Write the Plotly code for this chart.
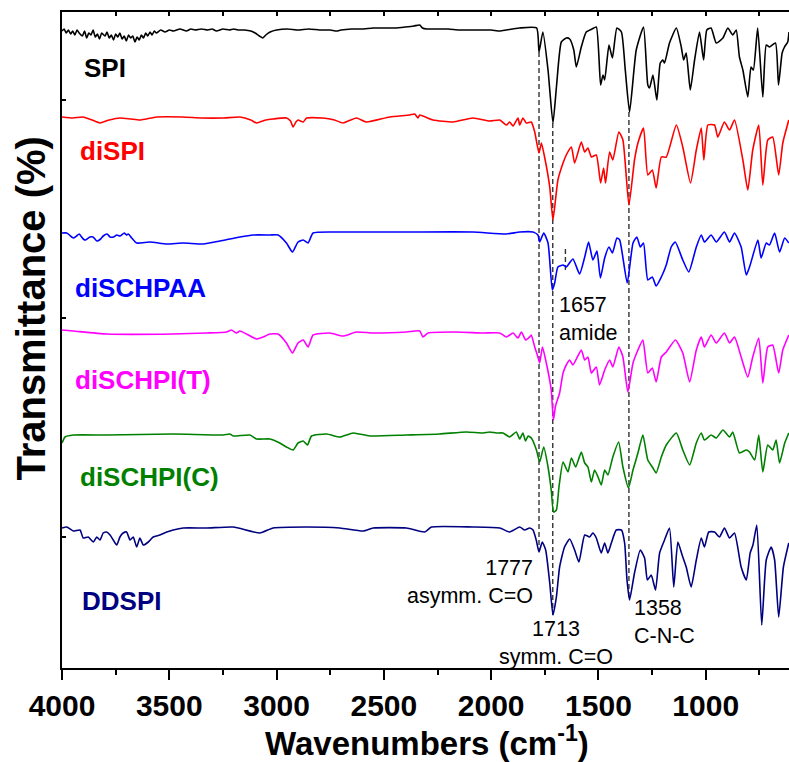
import plotly.graph_objects as go

# ---------------- data: (wavenumber cm-1, stacked transmittance a.u.) ----------------
SPI = [(4000,637),(3990,639),(3981,635),(3970,638),(3960,634),(3950,637),(3940,633),(3930,638),(3920,635),(3905,632),
       (3895,637),(3885,630),(3875,635),(3865,633),(3855,638),(3845,631),(3835,634),(3825,629),(3815,635),(3800,632),
       (3790,636),(3780,630),(3770,633),(3760,628),(3750,634),(3740,631),(3730,635),(3720,629),(3710,632),(3700,627),
       (3690,633),(3680,630),(3670,632),(3660,626),(3650,631),(3640,628),(3630,633),(3620,630),(3610,635),(3600,632),
       (3590,636),(3580,633),(3570,637),(3560,635),(3540,638),(3520,636),(3500,638),(3480,637),(3450,639),(3420,637),
       (3400,639),(3380,638),(3350,639),(3320,638),(3300,639),(3280,637),(3250,639),(3220,638),(3200,639),(3180,638),
       (3150,638),(3120,637),(3100,635),(3080,632),(3064,630),(3050,633),(3030,636),(3000,638),(2950,639),(2900,638),
       (2850,639),(2800,638),(2750,638),(2720,637),(2700,638),(2650,639),(2600,639),(2550,640),(2500,640),(2450,640),
       (2400,641),(2360,642),(2333,643),(2320,640),(2300,639),(2250,639),(2200,639),(2150,638),(2100,638),(2050,638),
       (2000,638),(1960,637),(1930,638),(1900,639),(1867,640),(1788,640),(1777,616),(1759,636),(1735,598),(1712,545),
       (1695,583),(1673,626),(1650,630),(1634,629),(1615,618),(1603,601),(1580,621),(1557,636),(1530,639),(1510,641),
       (1490,583),(1479,593),(1471,588),(1451,623),(1435,610),(1414,640),(1393,636),(1375,598),(1355,556),(1324,618),
       (1290,641),(1270,583),(1262,580),(1246,593),(1228,568),(1212,605),(1200,608),(1192,605),(1169,625),(1137,640),
       (1114,621),(1103,608),(1091,615),(1072,578),(1052,608),(1029,636),(1010,608),(995,638),(975,640),(951,625),
       (920,630),(897,640),(874,633),(858,638),(843,611),(827,598),(804,571),(789,601),(778,598),(758,640),
       (734,571),(718,623),(703,621),(675,625),(661,583),(644,615),(633,621),(618,626),(612,636)]

DISPI = [(4000,551),(3950,550),(3902,551),(3860,548),(3823,545),(3780,548),(3730,550),(3680,549),(3637,548),(3559,551),
         (3437,551),(3350,550),(3250,550),(3171,551),(3120,548),(3093,545),(3050,548),(3017,549),(2954,550),(2935,547),
         (2923,541),(2910,546),(2900,548),(2876,546),(2860,550),(2785,550),(2730,548),(2691,545),(2628,550),(2581,546),
         (2473,551),(2380,553),(2356,554),(2341,550),(2333,553),(2271,548),(2178,546),(2085,550),(2007,547),(1960,548),
         (1929,543),(1914,546),(1898,542),(1875,550),(1867,543),(1852,550),(1836,545),(1813,546),(1797,536),(1777,515),
         (1766,525),(1751,511),(1727,481),(1712,448),(1689,488),(1665,505),(1650,513),(1626,521),(1611,505),(1580,526),
         (1564,516),(1549,520),(1533,511),(1510,513),(1490,485),(1476,500),(1467,485),(1448,516),(1433,508),(1405,536),
         (1386,528),(1358,463),(1332,508),(1316,525),(1290,540),(1270,493),(1249,498),(1231,480),(1207,511),(1184,511),
         (1137,543),(1107,521),(1071,485),(1044,518),(1021,540),(1009,508),(990,543),(959,543),(944,531),(913,546),
         (889,538),(866,548),(827,508),(804,478),(781,518),(753,543),(734,483),(711,528),(688,531),(660,493),
         (641,525),(613,548)]

DISCHPAA = [(4000,435),(3978,435),(3965,433),(3955,431),(3945,430),(3932,432),(3920,434),(3901,429),(3890,428),(3870,431),
            (3855,431),(3838,427),(3820,429),(3808,432),(3790,434),(3776,431),(3760,431),(3745,433),(3730,432),(3710,435),
            (3700,433),(3691,434),(3675,430),(3652,425),(3590,426),(3512,424),(3435,425),(3342,424),(3264,427),(3171,431),
            (3109,433),(3031,433),(2993,433),(2954,425),(2926,416),(2900,426),(2876,428),(2853,425),(2830,435),(2705,436),
            (2395,436),(2085,436),(1929,434),(1867,436),(1805,436),(1782,433),(1774,426),(1755,435),(1735,425),(1715,378),
            (1704,385),(1689,401),(1665,403),(1650,401),(1619,409),(1588,394),(1564,411),(1546,426),(1526,408),(1507,417),
            (1491,390),(1471,410),(1451,421),(1435,415),(1414,430),(1401,428),(1366,385),(1339,425),(1321,431),(1305,421),
            (1290,425),(1270,388),(1249,391),(1231,382),(1207,391),(1184,403),(1161,421),(1142,426),(1107,408),(1079,396),
            (1044,421),(1021,433),(1006,426),(975,433),(951,426),(913,436),(889,426),(866,435),(835,421),(811,393),
            (793,403),(757,428),(742,410),(718,425),(703,423),(679,435),(656,416),(632,430),(613,425)]

DISCHPI_T = [(4000,338),(3947,337),(3792,334),(3482,334),(3326,335),(3233,336),(3210,338),(3187,335),(3171,337),(3140,334),
             (3093,329),(3063,331),(3031,334),(2993,334),(2954,325),(2926,315),(2900,325),(2876,328),(2853,321),(2830,333),
             (2752,335),(2690,332),(2628,336),(2550,335),(2395,336),(2333,337),(2318,331),(2294,335),(2162,336),(2038,335),
             (1960,335),(1929,331),(1898,335),(1875,330),(1859,336),(1839,328),(1821,331),(1813,333),(1797,321),(1782,311),
             (1774,305),(1761,321),(1743,305),(1720,278),(1710,248),(1700,262),(1681,275),(1665,295),(1650,303),(1634,308),
             (1619,303),(1580,318),(1564,308),(1549,311),(1533,295),(1510,301),(1495,283),(1471,298),(1448,308),(1433,301),
             (1405,321),(1386,311),(1363,276),(1339,305),(1316,318),(1293,328),(1270,295),(1249,300),(1231,286),(1207,311),
             (1184,316),(1141,328),(1107,315),(1075,286),(1044,318),(1021,331),(1006,321),(975,333),(951,325),(913,335),
             (889,325),(866,331),(835,311),(804,291),(781,311),(753,330),(734,285),(711,321),(688,323),(660,295),
             (641,318),(613,333)]

DISCHPI_C = [(4000,225),(3986,231),(3947,233),(3792,233),(3482,234),(3249,233),(3218,234),(3202,232),(3124,233),(3093,229),
             (3031,229),(2985,225),(2954,221),(2923,218),(2900,225),(2876,227),(2856,223),(2837,232),(2767,234),(2705,231),
             (2643,235),(2566,232),(2395,233),(2240,234),(2115,236),(2038,235),(2007,236),(1976,235),(1945,235),(1914,231),
             (1883,236),(1867,229),(1852,235),(1840,227),(1828,232),(1813,230),(1789,218),(1774,206),(1755,221),(1735,201),
             (1720,178),(1709,156),(1696,158),(1684,181),(1665,206),(1642,196),(1626,210),(1606,201),(1580,216),(1564,205),
             (1549,201),(1533,186),(1518,198),(1502,191),(1487,183),(1471,198),(1456,193),(1433,211),(1406,226),(1386,201),
             (1360,180),(1339,198),(1316,215),(1293,233),(1270,208),(1246,200),(1231,195),(1207,211),(1184,223),(1137,235),
             (1107,218),(1075,203),(1044,225),(1021,235),(1006,228),(975,233),(951,230),(920,238),(889,231),(874,236),
             (843,215),(811,218),(796,216),(772,208),(753,233),(734,196),(711,223),(688,218),(672,228),(656,205),
             (632,225),(613,235)]

DDSPI = [(4000,140),(3978,141),(3947,137),(3916,138),(3901,130),(3878,131),(3854,126),(3838,131),(3823,128),(3808,135),
         (3792,136),(3776,133),(3761,128),(3745,123),(3730,131),(3715,135),(3699,136),(3683,128),(3668,131),(3652,121),
         (3637,130),(3621,123),(3598,126),(3575,131),(3544,133),(3512,136),(3482,138),(3435,140),(3326,140),(3202,141),
         (3078,135),(3016,140),(2860,141),(2705,140),(2597,137),(2550,140),(2395,140),(2310,136),(2278,141),(2085,141),
         (1960,140),(1914,136),(1867,141),(1844,138),(1821,140),(1805,138),(1790,128),(1777,116),(1762,126),(1746,118),
         (1727,85),(1712,53),(1696,71),(1681,101),(1658,121),(1634,129),(1611,118),(1591,106),(1564,133),(1541,131),
         (1526,135),(1510,130),(1487,115),(1471,125),(1456,115),(1440,125),(1417,138),(1393,138),(1378,125),(1367,88),
         (1355,68),(1332,95),(1305,118),(1285,110),(1272,88),(1254,93),(1234,78),(1215,115),(1192,128),(1169,140),
         (1149,81),(1130,126),(1110,113),(1091,101),(1068,81),(1044,108),(1021,130),(1006,121),(986,136),(959,136),
         (936,131),(913,140),(889,130),(866,135),(835,101),(811,88),(793,115),(780,123),(762,143),(739,43),
         (718,108),(695,121),(679,108),(660,51),(638,101),(613,125)]

SERIES = [("SPI", SPI, "#000000"), ("diSPI", DISPI, "#ff0000"), ("diSCHPAA", DISCHPAA, "#0000ff"),
          ("diSCHPI(T)", DISCHPI_T, "#ff00ff"), ("diSCHPI(C)", DISCHPI_C, "#008000"), ("DDSPI", DDSPI, "#000080")]

# label anchor positions (wavenumber, transmittance)
LABEL_POS = [(3907, 600), (3925, 517), (3949, 380), (3949, 288), (3925, 191), (3916, 67)]

# marker bands: wavenumber, top, bottom
BANDS = [(1777, 616, 118), (1713, 545, 53), (1358, 556, 68), (1654, 419, 398)]

BAND_TEXT = [("1657<br>amide", 1692, 349, "left", "left"),
             ("1777<br>asymm. C=O", 1795, 86, "right", "right"),
             ("1713<br>symm. C=O", 1700, 25, "center", "center"),
             ("1358<br>C-N-C", 1345, 46, "left", "left")]

X_RANGE = [4000, 612]
Y_RANGE = [0, 656]
Y_TICKS = [131, 350, 568]

FONT = "Liberation Sans, Arial, sans-serif"

fig = go.Figure()

for wn, top, bot in BANDS:
    fig.add_trace(go.Scatter(x=[wn, wn], y=[top, bot], mode="lines",
                             line=dict(color="#333333", width=1.4, dash="5px,3px"),
                             hoverinfo="skip", showlegend=False))

for name, pts, col in SERIES:
    pts = sorted(pts, key=lambda p: -p[0])
    fig.add_trace(go.Scatter(x=[p[0] for p in pts], y=[p[1] for p in pts], mode="lines",
                             name=name, line=dict(color=col, width=1.6, shape="spline", smoothing=0.5),
                             showlegend=False))

# empty trace to register the top mirror axis
fig.add_trace(go.Scatter(x=[None], y=[None], xaxis="x2", showlegend=False, hoverinfo="skip"))

for (name, pts, col), (lx, ly) in zip(SERIES, LABEL_POS):
    fig.add_annotation(x=lx, y=ly, text=name, showarrow=False, xanchor="left", yanchor="middle",
                       font=dict(family=FONT, size=26, color=col, weight="bold"))

for txt, x, y, xa, al in BAND_TEXT:
    fig.add_annotation(x=x, y=y, text=txt, showarrow=False, xanchor=xa, yanchor="middle", align=al,
                       font=dict(family=FONT, size=21.5, color="#000000"))

fig.add_annotation(xref="paper", yref="paper", x=-0.043, y=0.549, text="Transmittance (%)", textangle=-90,
                   showarrow=False, xanchor="center", yanchor="middle",
                   font=dict(family=FONT, size=40, color="#000000", weight="bold"))
fig.add_annotation(xref="paper", yref="paper", x=0.502, y=-0.111, text="Wavenumbers (cm<sup>-1</sup>)",
                   showarrow=False, xanchor="center", yanchor="middle",
                   font=dict(family=FONT, size=33, color="#000000", weight="bold"))

fig.update_layout(
    width=789, height=762,
    margin=dict(l=62, r=0, t=12, b=94),
    paper_bgcolor="white", plot_bgcolor="white",
    xaxis=dict(range=X_RANGE, showgrid=False, zeroline=False, showline=True, linecolor="black", linewidth=2,
               ticks="outside", ticklen=10, tickwidth=2, tickcolor="black",
               tickmode="linear", tick0=0, dtick=500,
               minor=dict(ticks="outside", ticklen=5, tickwidth=2, tickcolor="black", dtick=250, tick0=0),
               tickfont=dict(family=FONT, size=30, color="black", weight="bold")),
    xaxis2=dict(range=X_RANGE, overlaying="x", side="top", anchor="y", showgrid=False, zeroline=False,
                showline=True, linecolor="black", linewidth=2, ticks="inside", ticklen=4, tickwidth=1.5,
                tickcolor="black", tickmode="linear", tick0=0, dtick=250, showticklabels=False),
    yaxis=dict(range=Y_RANGE, showgrid=False, zeroline=False, showline=True, linecolor="black", linewidth=2,
               ticks="inside", ticklen=4, tickwidth=1.5, tickcolor="black",
               tickmode="array", tickvals=Y_TICKS, showticklabels=False),
)

fig.write_html("out.html")
